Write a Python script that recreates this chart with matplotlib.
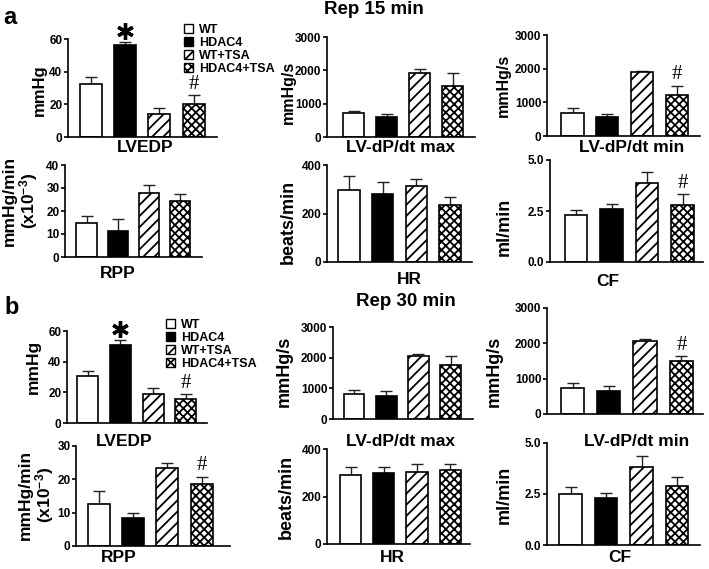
import matplotlib
matplotlib.use('Agg')
import matplotlib.pyplot as plt
from matplotlib.patches import Patch

plt.rcParams['font.family'] = ['Liberation Sans', 'DejaVu Sans']
plt.rcParams['font.weight'] = 'bold'
plt.rcParams['axes.labelweight'] = 'bold'
plt.rcParams['hatch.linewidth'] = 1.3
plt.rcParams['mathtext.fontset'] = 'custom'
plt.rcParams['mathtext.rm'] = 'Liberation Sans:bold'
plt.rcParams['mathtext.default'] = 'rm'

groups = ['WT', 'HDAC4', 'WT+TSA', 'HDAC4+TSA']

# Rep 15 min (mean, upper SEM)
lvedp_15 = [32.4, 56.3, 13.8, 20.5]
lvedp_15_err = [4.1, 1.6, 3.7, 5.2]
dpmax_15 = [730, 600, 1930, 1530]
dpmax_15_err = [50, 80, 100, 380]
dpmin_15 = [670, 550, 1900, 1230]
dpmin_15_err = [165, 110, 30, 260]
rpp_15 = [14.8, 11.3, 27.8, 24.3]
rpp_15_err = [3.1, 5.1, 3.3, 2.9]
hr_15 = [295, 282, 315, 233]
hr_15_err = [60, 47, 26, 34]
cf_15 = [2.28, 2.61, 3.89, 2.80]
cf_15_err = [0.28, 0.24, 0.51, 0.52]

# Rep 30 min
lvedp_30 = [30.9, 50.8, 18.8, 15.8]
lvedp_30_err = [3.0, 3.6, 4.3, 3.0]
dpmax_30 = [820, 755, 2050, 1760]
dpmax_30_err = [130, 160, 65, 290]
dpmin_30 = [730, 660, 2070, 1490]
dpmin_30_err = [140, 135, 57, 140]
rpp_30 = [12.5, 8.3, 23.3, 18.6]
rpp_30_err = [4.0, 1.5, 1.7, 2.2]
hr_30 = [291, 298, 305, 310]
hr_30_err = [35, 25, 32, 26]
cf_30 = [2.51, 2.30, 3.80, 2.90]
cf_30_err = [0.31, 0.27, 0.54, 0.43]

ticks_lvedp = [0, 20, 40, 60]
ticks_dp = [0, 1000, 2000, 3000]
ticks_rpp_15 = [0, 10, 20, 30, 40]
ticks_rpp_30 = [0, 10, 20, 30]
ticks_hr = [0, 200, 400]
ticks_cf = [0.0, 2.5, 5.0]
ticklabels_cf = ['0.0', '2.5', '5.0']

faces = ['white', 'black', 'white', 'white']
hatches = [None, None, '///', 'xxxx']

W, H = 709, 569
fig = plt.figure(figsize=(W / 100, H / 100), dpi=100)


def rect(l, t, r, b):
    return [l / W, 1 - b / H, (r - l) / W, (b - t) / H]


rpp_label = 'mmHg/min\n(x10$^{-3}$)'

# rect px (l, t, r, b), first bar centre px, bar step px, ylabel (x, y, size), xlabel (x, y)
panels = [
    (lvedp_15, lvedp_15_err, (68, 39, 217, 137), 91, 34.2, ticks_lvedp, None, 'mmHg', (39, 90, 12), 'LVEDP', (145, 148), {1: '*', 3: '#'}),
    (dpmax_15, dpmax_15_err, (327, 37, 475, 137), 353.5, 33, ticks_dp, None, 'mmHg/s', (288, 92, 11.5), 'LV-dP/dt max', (400, 148), {}),
    (dpmin_15, dpmin_15_err, (547, 35, 700, 136), 572.5, 34.8, ticks_dp, None, 'mmHg/s', (503, 85, 11.5), 'LV-dP/dt min', (632, 148), {3: '#'}),
    (rpp_15, rpp_15_err, (65, 165, 202, 257), 86.5, 31.3, ticks_rpp_15, None, rpp_label, (21, 201, 12.5), 'RPP', (118, 273), {}),
    (hr_15, hr_15_err, (327, 165, 472, 262), 349, 33.7, ticks_hr, None, 'beats/min', (288, 222, 13), 'HR', (409, 279), {}),
    (cf_15, cf_15_err, (550, 160, 703, 262), 576, 35.5, ticks_cf, ticklabels_cf, 'ml/min', (504, 227, 13), 'CF', (608, 281), {3: '#'}),
    (lvedp_30, lvedp_30_err, (67, 331, 207, 423), 87.5, 32.8, ticks_lvedp, None, 'mmHg', (33, 367, 12.5), 'LVEDP', (124, 442), {1: '*', 3: '#'}),
    (dpmax_30, dpmax_30_err, (333, 327, 473, 419), 354, 32.2, ticks_dp, None, 'mmHg/s', (284, 371, 13), 'LV-dP/dt max', (401, 442), {}),
    (dpmin_30, dpmin_30_err, (547, 308, 703, 414), 572.5, 36.3, ticks_dp, None, 'mmHg/s', (494, 371, 13), 'LV-dP/dt min', (637, 441), {3: '#'}),
    (rpp_30, rpp_30_err, (76, 446, 230, 546), 99, 34.2, ticks_rpp_30, None, rpp_label, (37, 495, 12.5), 'RPP', (119, 558), {3: '#'}),
    (hr_30, hr_30_err, (327, 449, 470, 544), 350.5, 33.3, ticks_hr, None, 'beats/min', (286, 497, 13), 'HR', (392, 558), {}),
    (cf_30, cf_30_err, (547, 443, 700, 545), 570.5, 35.5, ticks_cf, ticklabels_cf, 'ml/min', (504, 495, 13), 'CF', (620, 557), {}),
]

for vals, errs, box, c0, step, ticks, ticklabels, ylab, ypos, xlab, xpos, marks in panels:
    l, t, r, b = box
    ax = fig.add_axes(rect(l, t, r, b))
    ax.set_facecolor('none')
    x = list(range(len(groups)))
    ax.bar(x, vals, width=0.64, color=faces, edgecolor='black', linewidth=1.2,
           hatch=hatches, zorder=2)
    ax.errorbar(x, vals, yerr=[[0] * 4, errs], fmt='none', ecolor='#222222',
                elinewidth=1.0, capsize=4, capthick=1.0, zorder=1)
    ax.set_xlim((l - c0) / step, (r - c0) / step)
    ax.set_ylim(ticks[0], ticks[-1])
    ax.set_yticks(ticks)
    if ticklabels:
        ax.set_yticklabels(ticklabels)
    ax.set_xticks([])
    for s in ['top', 'right']:
        ax.spines[s].set_visible(False)
    for s in ['left', 'bottom']:
        ax.spines[s].set_linewidth(1.2)
    ax.tick_params(axis='y', direction='out', length=3, width=1.2, pad=1, labelsize=8.5)
    for lab in ax.get_yticklabels():
        lab.set_fontweight('bold')

    ax.set_ylabel(ylab, fontsize=ypos[2], linespacing=1.0)
    ax.yaxis.set_label_coords(ypos[0] / W, 1 - ypos[1] / H, transform=fig.transFigure)
    ax.yaxis.label.set_va('center')
    ax.set_xlabel(xlab, fontsize=12.5)
    ax.xaxis.set_label_coords(xpos[0] / W, 1 - xpos[1] / H, transform=fig.transFigure)
    ax.xaxis.label.set_va('center')

    span = ticks[-1] - ticks[0]
    for i, sym in marks.items():
        top = vals[i] + errs[i]
        if sym == '*':
            ax.plot(i, top + 0.12 * span, marker=(6, 2, 0), markersize=12,
                    markeredgewidth=2.4, color='black', clip_on=False)
        else:
            ax.annotate('#', (i, top), xytext=(0, 1), textcoords='offset points',
                        ha='center', va='bottom', fontsize=15,
                        family='Liberation Serif', fontweight='normal')

handles = [Patch(facecolor=faces[i], edgecolor='black', hatch=hatches[i], linewidth=1.0)
           for i in range(len(groups))]
for (lx, ty) in [(184, 24), (166, 319)]:
    fig.legend(handles, groups, loc='upper left', bbox_to_anchor=(lx / W, 1 - ty / H),
               frameon=False, handlelength=0.75, handleheight=0.7,
               handletextpad=0.45, labelspacing=0.08, borderpad=0, borderaxespad=0,
               prop={'weight': 'bold', 'size': 9})

fig.text(374 / W, 1 - 10 / H, 'Rep 15 min', ha='center', va='center', fontsize=13.5, fontweight='bold')
fig.text(406 / W, 1 - 302 / H, 'Rep 30 min', ha='center', va='center', fontsize=13.5, fontweight='bold')
fig.text(10 / W, 1 - 17 / H, 'a', ha='center', va='center', fontsize=17, fontweight='bold')
fig.text(12 / W, 1 - 308 / H, 'b', ha='center', va='center', fontsize=17, fontweight='bold')

fig.savefig('out.png', dpi=100)
